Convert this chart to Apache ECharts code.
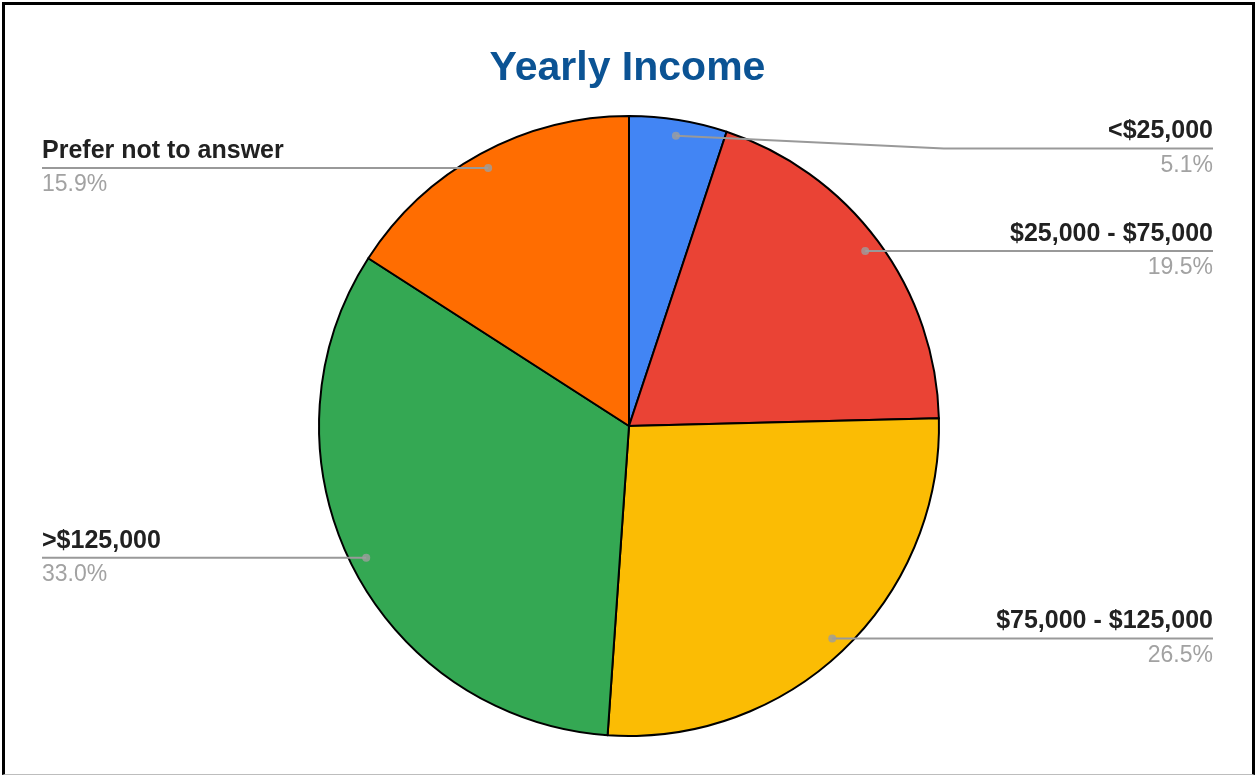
<!DOCTYPE html>
<html>
<head>
<meta charset="utf-8">
<title>Yearly Income</title>
<script src="https://cdn.jsdelivr.net/npm/echarts@6/dist/echarts.min.js"></script>
<style>
  html, body { margin: 0; padding: 0; background: #fff; }
  #chart { position: absolute; left: 0; top: 0; width: 1255px; height: 775px; }
  #frame {
    position: absolute; left: 2px; top: 2px; right: 0; bottom: 0;
    box-sizing: border-box;
    border-top: 3px solid #000; border-left: 3px solid #000;
    border-right: 3px solid #000; border-bottom: 1px solid #bdbdbd;
    pointer-events: none;
  }
</style>
</head>
<body>
<div id="chart"></div>
<div id="frame"></div>
<script>
// Survey answers: share of respondents per income bracket (percent)
const categories = ['<$25,000', '$25,000 - $75,000', '$75,000 - $125,000', '>$125,000', 'Prefer not to answer'];
const shares = [5.1, 19.5, 26.5, 33.0, 15.9];
const colors = ['#4285f4', '#ea4335', '#fbbc04', '#34a853', '#ff6d01'];

// pie geometry
const CX = 629, CY = 426, R = 310;
const DOT_R = 294;          // where the leader lines start, inside each slice
const FONT = '"Liberation Sans", Arial, Helvetica, sans-serif';

const pieData = categories.map((name, i) => ({ name, value: shares[i] }));

// angular midpoint of each slice (in value units, 0..total) for the leader-line dots
const total = shares.reduce((a, b) => a + b, 0);
const mids = [];
let acc = 0;
shares.forEach(v => { mids.push(acc + v / 2); acc += v; });

const chart = echarts.init(document.getElementById('chart'), null, { renderer: 'canvas' });

chart.setOption({
  animation: false,
  color: colors,
  title: {
    text: 'Yearly Income',
    left: 'center',
    top: 43,
    textStyle: { fontFamily: FONT, fontSize: 41, fontWeight: 'bold', color: '#0b5394' }
  },
  polar: { center: [CX, CY], radius: R },
  angleAxis: { type: 'value', min: 0, max: total, startAngle: 90, clockwise: true, show: false },
  radiusAxis: { type: 'value', min: 0, max: R, show: false },
  series: [
    {
      // the slices
      type: 'pie',
      center: [CX, CY],
      radius: R,
      startAngle: 90,
      clockwise: true,
      silent: true,
      label: { show: false },
      labelLine: { show: false },
      itemStyle: { borderColor: '#000', borderWidth: 2 },
      emphasis: { disabled: true },
      data: pieData,
      z: 2
    },
    {
      // invisible inner ring that carries the labels and their leader lines
      type: 'pie',
      center: [CX, CY],
      radius: DOT_R,
      startAngle: 90,
      clockwise: true,
      silent: true,
      percentPrecision: 1,
      itemStyle: { color: 'rgba(0,0,0,0)', borderWidth: 0 },
      emphasis: { disabled: true },
      label: {
        show: true,
        position: 'outside',
        alignTo: 'edge',
        edgeDistance: 42,
        formatter: p => '{n|' + p.name + '}\n{p|' + p.percent.toFixed(1) + '%}',
        rich: {
          n: { fontFamily: FONT, fontSize: 25, fontWeight: 'bold', color: '#212121', lineHeight: 34 },
          p: { fontFamily: FONT, fontSize: 23, color: '#a2a2a2', lineHeight: 34 }
        }
      },
      labelLine: {
        show: true,
        length: 0,
        length2: 10,
        lineStyle: { color: '#999999', width: 2 }
      },
      labelLayout: function (p) {
        const pts = p.labelLinePoints;
        if (!pts || !pts.length) return {};
        const rect = p.labelRect;
        const start = pts[0];
        const end = pts[pts.length - 1];
        const toRight = end[0] > start[0];
        const farX = toRight ? rect.x + rect.width : rect.x;
        const nearX = toRight ? rect.x : rect.x + rect.width;
        // keep labels from rising above the top of the pie
        const shift = Math.max(0, (CY - R + 3) - rect.y);
        if (shift > 0) {
          const y = end[1] + shift;
          const kneeX = start[0] + (nearX - start[0]) * 0.62;
          return { y: y, labelLinePoints: [start, [kneeX, y], [farX, y]] };
        }
        return { labelLinePoints: [start, [farX, end[1]]] };
      },
      data: pieData,
      z: 3
    },
    {
      // small dots where the leader lines begin
      type: 'scatter',
      coordinateSystem: 'polar',
      symbol: 'circle',
      symbolSize: 8,
      silent: true,
      itemStyle: { color: '#9e9e9e' },
      data: mids.map(m => [DOT_R, m]),
      z: 4
    }
  ]
});
</script>
</body>
</html>
